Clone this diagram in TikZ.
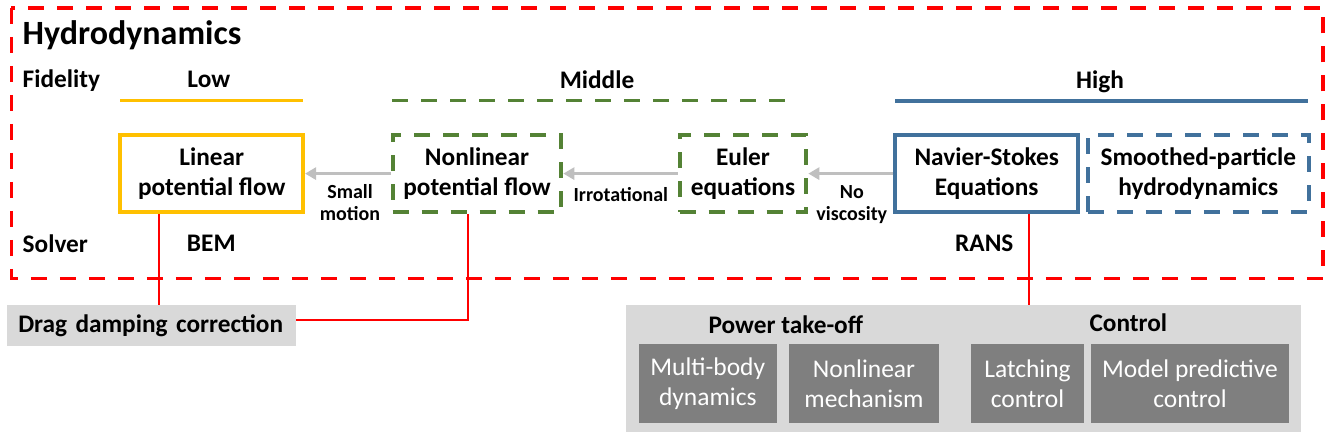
\documentclass[tikz,border=0pt]{standalone}
\usepackage{fontspec}
\setmainfont{Carlito}
\usetikzlibrary{arrows.meta,calc}
\definecolor{hred}{HTML}{FF0000}
\definecolor{hyellow}{HTML}{FFC000}
\definecolor{hgreen}{HTML}{548235}
\definecolor{hblue}{HTML}{41719C}
\definecolor{agray}{HTML}{BFBFBF}
\definecolor{lgray}{HTML}{D9D9D9}
\definecolor{dgray}{HTML}{7F7F7F}
\begin{document}
\begin{tikzpicture}[x=1pt,y=-1pt,
  frame/.style={draw=hred, line width=3.5pt, dash pattern=on 16pt off 13pt},
  title/.style={font=\bfseries\fontsize{34}{40}\selectfont, inner sep=0pt, anchor=base west},
  lbl/.style={font=\bfseries\fontsize{25.3}{30}\selectfont, inner sep=0pt, anchor=base},
  box/.style={line width=4pt, font=\bfseries\fontsize{25.3}{30}\selectfont, align=center, minimum height=77.3pt, inner sep=0pt},
  dbox/.style={dash pattern=on 16pt off 13pt},
  elbl/.style={font=\bfseries\fontsize{20}{22.3}\selectfont, align=center, inner sep=0pt},
  garrow/.style={draw=agray, line width=3.5pt, -{Triangle[length=11pt,width=12pt]}},
  rline/.style={draw=hred, line width=2.2pt},
  fline/.style={line width=3.5pt},
  lgbox/.style={fill=lgray, inner sep=0pt},
  dgbox/.style={fill=dgray, text=white, font=\fontsize{25.5}{30}\selectfont, align=center, minimum height=78.5pt, inner sep=0pt}
]
\useasboundingbox (0,0) rectangle (1335,441);

% outer frame
\draw[frame] (11.3,7.8) rectangle (1323,278.3);

% headings
\node[title] (hydro) at (22.5,44.5) {Hydrodynamics};
\node[lbl, anchor=base west] (fid) at (22.5,87.7) {Fidelity};
\node[lbl] (low) at (208.8,87.5) {Low};
\node[lbl] (mid) at (597,88.3) {Middle};
\node[lbl] (high) at (1100,88.3) {High};
\node[lbl, anchor=base west] (solver) at (22.5,252) {Solver};
\node[lbl] (bem) at (211.3,251.7) {BEM};
\node[lbl] (rans) at (984.3,251.7) {RANS};

% fidelity bars
\draw[fline, draw=hyellow] (120,100.7) -- (302.7,100.7);
\draw[fline, draw=hgreen, dbox] (392,100.7) -- (796,100.7);
\draw[fline, draw=hblue] (895,101) -- (1308.3,101);

% model boxes
\node[box, draw=hyellow, minimum width=182.7pt] (lin) at (211.7,173.6) {Linear\\potential flow};
\node[box, dbox, draw=hgreen, minimum width=168.6pt] (nonlin) at (477,173.6) {Nonlinear\\potential flow};
\node[box, dbox, draw=hgreen, minimum width=126.6pt] (euler) at (743,173.6) {Euler\\equations};
\node[box, draw=hblue, minimum width=182.7pt] (ns) at (986.7,173.6) {Navier-Stokes\\Equations};
\node[box, dbox, draw=hblue, minimum width=220.7pt] (sph) at (1198.3,173.6) {Smoothed-particle\\hydrodynamics};

% arrows
\draw[garrow] (nonlin.west) -- (lin.east);
\draw[garrow] (euler.west) -- (nonlin.east);
\draw[garrow] (ns.west) -- (euler.east);

% arrow labels
\node[elbl] (l1) at (350,202.7) {Small\\motion};
\node[elbl, anchor=base] (l2) at (620.8,201) {Irrotational};
\node[elbl] (l3) at (851.8,204.5) {No\\viscosity};

% drag damping box
\node[lgbox, text width=266.4pt, align=left, inner xsep=11pt, minimum height=40.7pt,
      font=\bfseries\fontsize{25.3}{30}\selectfont] (drag) at (151.5,325.3) {Drag damping correction};

% PTO / control box
\node[lgbox, minimum width=675pt, minimum height=126.7pt] (pto) at (963.5,368.3) {};
\node[lbl] (ptot) at (785.8,333.3) {Power take-off};
\node[lbl] (ctrlt) at (1128.3,331.7) {Control};
\node[dgbox, minimum width=137.7pt] (mbd) at (707.8,383.7) {Multi-body\\dynamics};
\node[dgbox, minimum width=150.2pt] (nlm) at (864,383.7) {Nonlinear\\mechanism};
\node[dgbox, minimum width=113pt] (latch) at (1027.5,383.7) {Latching\\control};
\node[dgbox, minimum width=198pt] (mpc) at (1190,383.7) {Model predictive\\control};

% red connectors
\draw[rline] ([xshift=-52.5pt]lin.south) -- ([xshift=-52.5pt]lin.south |- drag.north);
\draw[rline] ([xshift=-9.2pt]nonlin.south) |- ([yshift=5.3pt]drag.east);
\draw[rline] ([xshift=42pt]ns.south) -- ([xshift=42pt]ns.south |- pto.north);
\end{tikzpicture}
\end{document}
